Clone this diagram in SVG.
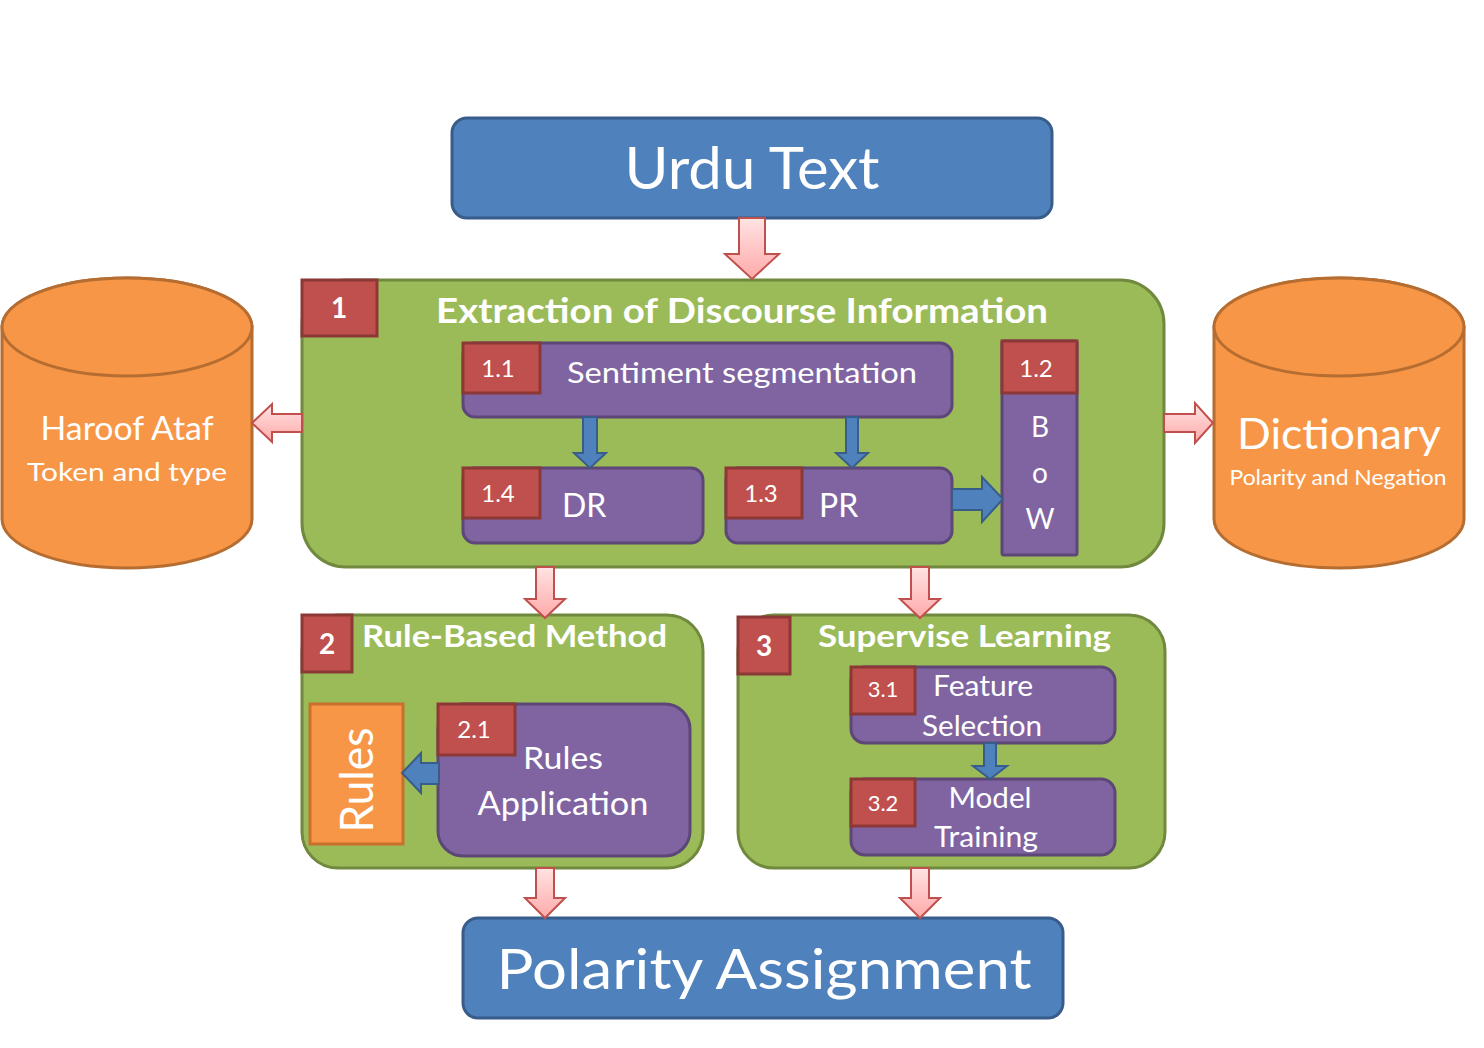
<svg xmlns="http://www.w3.org/2000/svg" width="1484" height="1048" viewBox="0 0 1484 1048">
  <defs>
    <linearGradient id="pinkFill" x1="0" y1="0" x2="0" y2="1">
      <stop offset="0" stop-color="#FFE3E3"/>
      <stop offset="1" stop-color="#FFA9A9"/>
    </linearGradient>
    <style>
      .txt { font-family: Lato, "Liberation Sans", Arial, sans-serif; fill: #FFFFFF; }
      .bold { font-weight: bold; }
      .mid { text-anchor: middle; }
      .num { font-size: 24px; }
      .term { fill: #4F81BD; stroke: #385D8A; stroke-width: 3; }
      .stage { fill: #9BBB59; stroke: #71893F; stroke-width: 3; }
      .task { fill: #8064A2; stroke: #5C4776; stroke-width: 3; }
      .badge { fill: #C0504D; stroke: #8C3836; stroke-width: 3; }
      .store { fill: #F79646; stroke: #B66D31; stroke-width: 3; }
      .flow { fill: url(#pinkFill); stroke: #C0504D; stroke-width: 2; stroke-linejoin: miter; }
      .step { fill: #4F81BD; stroke: #385D8A; stroke-width: 2; }
    </style>
  </defs>

  <rect width="1484" height="1048" fill="#FFFFFF"/>

  <!-- input -->
  <g id="urdu-text">
    <rect class="term" x="452" y="118" width="600" height="100" rx="15"/>
    <text class="txt mid" x="752" y="189" font-size="59" textLength="255" lengthAdjust="spacingAndGlyphs">Urdu Text</text>
  </g>

  <!-- resource stores -->
  <g id="haroof-ataf">
    <path class="store" d="M2,327 V519 A125,49 0 0 0 252,519 V327 A125,49 0 0 0 2,327 Z"/>
    <ellipse class="store" cx="127" cy="327" rx="125" ry="49"/>
    <text class="txt mid" x="127" y="440" font-size="32" textLength="173" lengthAdjust="spacingAndGlyphs">Haroof Ataf</text>
    <text class="txt mid" x="127" y="481" font-size="25" textLength="200" lengthAdjust="spacingAndGlyphs">Token and type</text>
  </g>

  <g id="dictionary">
    <path class="store" d="M1214,327 V519 A125,49 0 0 0 1464,519 V327 A125,49 0 0 0 1214,327 Z"/>
    <ellipse class="store" cx="1339" cy="327" rx="125" ry="49"/>
    <text class="txt mid" x="1339" y="449" font-size="43" textLength="204" lengthAdjust="spacingAndGlyphs">Dictionary</text>
    <text class="txt mid" x="1338" y="485" font-size="21" textLength="217" lengthAdjust="spacingAndGlyphs">Polarity and Negation</text>
  </g>

  <!-- stage 1 -->
  <g id="stage-1">
    <rect class="stage" x="302" y="280" width="862" height="287" rx="44"/>
    <rect class="badge" x="302" y="280" width="75" height="56"/>
    <text class="txt bold mid" x="339" y="318" font-size="28">1</text>
    <text class="txt bold mid" x="742" y="323" font-size="35" textLength="612" lengthAdjust="spacingAndGlyphs">Extraction of Discourse Information</text>
  </g>

  <g id="task-1-1">
    <rect class="task" x="463" y="343" width="489" height="74" rx="12"/>
    <rect class="badge" x="463" y="343" width="77" height="50"/>
    <text class="txt num mid" x="498" y="377">1.1</text>
    <text class="txt mid" x="742" y="383" font-size="28" textLength="350" lengthAdjust="spacingAndGlyphs">Sentiment segmentation</text>
  </g>

  <g id="task-1-4">
    <rect class="task" x="463" y="468" width="240" height="75" rx="12"/>
    <rect class="badge" x="463" y="468" width="77" height="50"/>
    <text class="txt num mid" x="498" y="502">1.4</text>
    <text class="txt" x="562" y="517" font-size="32">DR</text>
  </g>

  <g id="task-1-3">
    <rect class="task" x="726" y="468" width="226" height="75" rx="12"/>
    <rect class="badge" x="726" y="468" width="76" height="50"/>
    <text class="txt num mid" x="761" y="502">1.3</text>
    <text class="txt" x="819" y="517" font-size="32">PR</text>
  </g>

  <g id="task-1-2">
    <rect class="task" x="1002" y="341" width="75" height="214" rx="2"/>
    <rect class="badge" x="1002" y="341" width="75" height="52"/>
    <text class="txt num mid" x="1036" y="377">1.2</text>
    <text class="txt mid" x="1040" y="437" font-size="28">B</text>
    <text class="txt mid" x="1040" y="483" font-size="28">o</text>
    <text class="txt mid" x="1040" y="529" font-size="28">W</text>
  </g>

  <!-- stage 2 -->
  <g id="stage-2">
    <rect class="stage" x="302" y="615" width="401" height="253" rx="36"/>
    <rect class="badge" x="302" y="615" width="50" height="57"/>
    <text class="txt bold mid" x="327" y="654" font-size="28">2</text>
    <text class="txt bold" x="362" y="647" font-size="31" textLength="305" lengthAdjust="spacingAndGlyphs">Rule-Based Method</text>
  </g>

  <g id="rules">
    <rect x="310" y="704" width="93" height="140" fill="#F79646" stroke="#C8702D" stroke-width="3"/>
    <text class="txt mid" transform="translate(373,780) rotate(-90)" font-size="46" textLength="105" lengthAdjust="spacingAndGlyphs">Rules</text>
  </g>

  <g id="task-2-1">
    <rect class="task" x="438" y="704" width="252" height="152" rx="25"/>
    <rect class="badge" x="438" y="704" width="77" height="51"/>
    <text class="txt num mid" x="474" y="738">2.1</text>
    <text class="txt mid" x="563" y="769" font-size="31" textLength="80" lengthAdjust="spacingAndGlyphs">Rules</text>
    <text class="txt mid" x="563" y="815" font-size="32" textLength="171" lengthAdjust="spacingAndGlyphs">Application</text>
  </g>

  <!-- stage 3 -->
  <g id="stage-3">
    <rect class="stage" x="738" y="615" width="427" height="253" rx="36"/>
    <rect class="badge" x="738" y="617" width="52" height="57"/>
    <text class="txt bold mid" x="764" y="656" font-size="28">3</text>
    <text class="txt bold" x="818" y="647" font-size="31" textLength="293" lengthAdjust="spacingAndGlyphs">Supervise Learning</text>
  </g>

  <g id="task-3-1">
    <rect class="task" x="851" y="667" width="264" height="76" rx="14"/>
    <rect class="badge" x="851" y="667" width="64" height="47"/>
    <text class="txt mid" x="883" y="697" font-size="22">3.1</text>
    <text class="txt mid" x="983" y="696" font-size="28" textLength="100" lengthAdjust="spacingAndGlyphs">Feature</text>
    <text class="txt mid" x="982" y="736" font-size="28" textLength="120" lengthAdjust="spacingAndGlyphs">Selection</text>
  </g>

  <g id="task-3-2">
    <rect class="task" x="851" y="779" width="264" height="76" rx="14"/>
    <rect class="badge" x="851" y="779" width="64" height="47"/>
    <text class="txt mid" x="883" y="811" font-size="22">3.2</text>
    <text class="txt mid" x="990" y="808" font-size="28" textLength="83" lengthAdjust="spacingAndGlyphs">Model</text>
    <text class="txt mid" x="986" y="847" font-size="28" textLength="104" lengthAdjust="spacingAndGlyphs">Training</text>
  </g>

  <!-- output -->
  <g id="polarity-assignment">
    <rect class="term" x="463" y="918" width="600" height="100" rx="15"/>
    <text class="txt mid" x="764" y="989" font-size="57" textLength="535" lengthAdjust="spacingAndGlyphs">Polarity Assignment</text>
  </g>

  <!-- connectors -->
  <g id="connectors">
    <!-- main flow between stages -->
    <path class="flow" d="M739,218 H765 V254 H779 L752,279 L725,254 H739 Z"/>
    <path class="flow" d="M536,567 H554 V599 H565 L545,618 L525,599 H536 Z"/>
    <path class="flow" d="M911,567 H929 V599 H940 L920,618 L900,599 H911 Z"/>
    <path class="flow" d="M536,868 H554 V898 H565 L545,918 L525,898 H536 Z"/>
    <path class="flow" d="M911,868 H929 V898 H940 L920,918 L900,898 H911 Z"/>
    <!-- stage 1 to the stores -->
    <path class="flow" d="M302,414 H272 V404 L252,423 L272,442 V432 H302 Z"/>
    <path class="flow" d="M1164,414 H1195 V403 L1213,423 L1195,443 V432 H1164 Z"/>
    <!-- steps inside the stages -->
    <path class="step" d="M583,417 H597 V453 H606 L590,468 L574,453 H583 Z"/>
    <path class="step" d="M846,417 H858 V453 H868 L852,468 L836,453 H846 Z"/>
    <path class="step" d="M952,489 H982 V477 L1003,499 L982,522 V510 H952 Z"/>
    <path class="step" d="M439,763 H421 V753 L402,773 L421,793 V784 H439 Z"/>
    <path class="step" d="M984,743 H996 V766 H1007 L990,779 L973,766 H984 Z"/>
  </g>
</svg>
